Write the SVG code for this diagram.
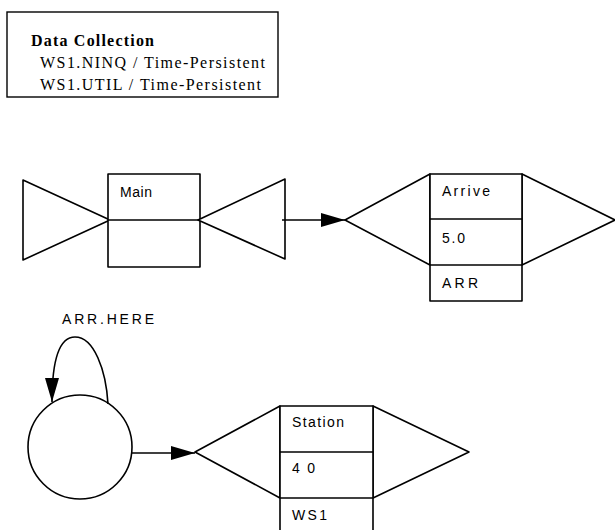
<svg xmlns="http://www.w3.org/2000/svg" width="615" height="530" viewBox="0 0 615 530">
  <style>
    .ln { fill: none; stroke: #000; stroke-width: 1.6; }
    .sh { fill: #fff; stroke: #000; stroke-width: 1.6; stroke-linejoin: round; }
    .lbl { font-family: "Liberation Sans", Arial, sans-serif; font-size: 14px; fill: #000; }
    .dc { font-family: "Liberation Serif", "Times New Roman", serif; font-size: 16px; fill: #000; }
  </style>
  <defs>
    <marker id="arrow" viewBox="0 0 24 14" refX="24" refY="7" markerWidth="24" markerHeight="14" markerUnits="userSpaceOnUse" orient="auto">
      <path d="M0,0 L24,7 L0,14 Z" fill="#000"/>
    </marker>
  </defs>
  <rect width="615" height="530" fill="#fff"/>

  <!-- statistics panel -->
  <g id="data-collection">
    <rect x="7" y="12" width="271" height="85" fill="#fff" stroke="#000" stroke-width="1.4"/>
    <text class="dc" x="31" y="46" font-weight="bold" textLength="123" lengthAdjust="spacing">Data Collection</text>
    <text class="dc" x="40" y="68" textLength="225" lengthAdjust="spacing">WS1.NINQ / Time-Persistent</text>
    <text class="dc" x="40" y="90" textLength="221" lengthAdjust="spacing">WS1.UTIL / Time-Persistent</text>
  </g>

  <!-- Main block with begin/end triangles -->
  <g id="main">
    <polygon class="sh" points="23,180 110,220 23,260"/>
    <rect class="sh" x="108" y="174" width="92" height="93"/>
    <line class="ln" x1="108" y1="220" x2="200" y2="220"/>
    <polygon class="sh" points="285,179 198,220 285,259"/>
    <text class="lbl" x="120" y="197" textLength="32" lengthAdjust="spacing">Main</text>
  </g>

  <!-- Arrive block -->
  <g id="arrive">
    <polygon class="sh" points="430,174 345,220 430,265"/>
    <polygon class="sh" points="522,174 615,220 522,265"/>
    <rect class="sh" x="430" y="174" width="92" height="127"/>
    <line class="ln" x1="430" y1="219" x2="522" y2="219"/>
    <line class="ln" x1="430" y1="265" x2="522" y2="265"/>
    <text class="lbl" x="442" y="196" textLength="48" lengthAdjust="spacing">Arrive</text>
    <text class="lbl" x="442" y="243" textLength="23" lengthAdjust="spacing">5.0</text>
    <text class="lbl" x="442" y="288" textLength="36" lengthAdjust="spacing">ARR</text>
  </g>

  <!-- entry point circle -->
  <g id="arr-here">
    <circle class="sh" cx="80" cy="447" r="52"/>
    <text class="lbl" x="62" y="324" font-size="15" textLength="92" lengthAdjust="spacing">ARR.HERE</text>
  </g>

  <!-- Station block -->
  <g id="station">
    <polygon class="sh" points="280,406 195,452 280,498"/>
    <polygon class="sh" points="373,406 469,452 373,498"/>
    <rect class="sh" x="280" y="406" width="93" height="130"/>
    <line class="ln" x1="280" y1="452" x2="373" y2="452"/>
    <line class="ln" x1="280" y1="498" x2="373" y2="498"/>
    <text class="lbl" x="292" y="427" textLength="52" lengthAdjust="spacing">Station</text>
    <text class="lbl" x="292" y="473" textLength="23" lengthAdjust="spacing">4 0</text>
    <text class="lbl" x="292" y="520" textLength="35" lengthAdjust="spacing">WS1</text>
  </g>

  <!-- connectors -->
  <g id="connectors">
    <line class="ln" x1="282" y1="220" x2="345" y2="220" marker-end="url(#arrow)"/>
    <path class="ln" d="M108,404 C106,370 94,337 75,337 C58,337 52,362 52,402" marker-end="url(#arrow)"/>
    <line class="ln" x1="131" y1="453" x2="195" y2="453" marker-end="url(#arrow)"/>
  </g>
</svg>
